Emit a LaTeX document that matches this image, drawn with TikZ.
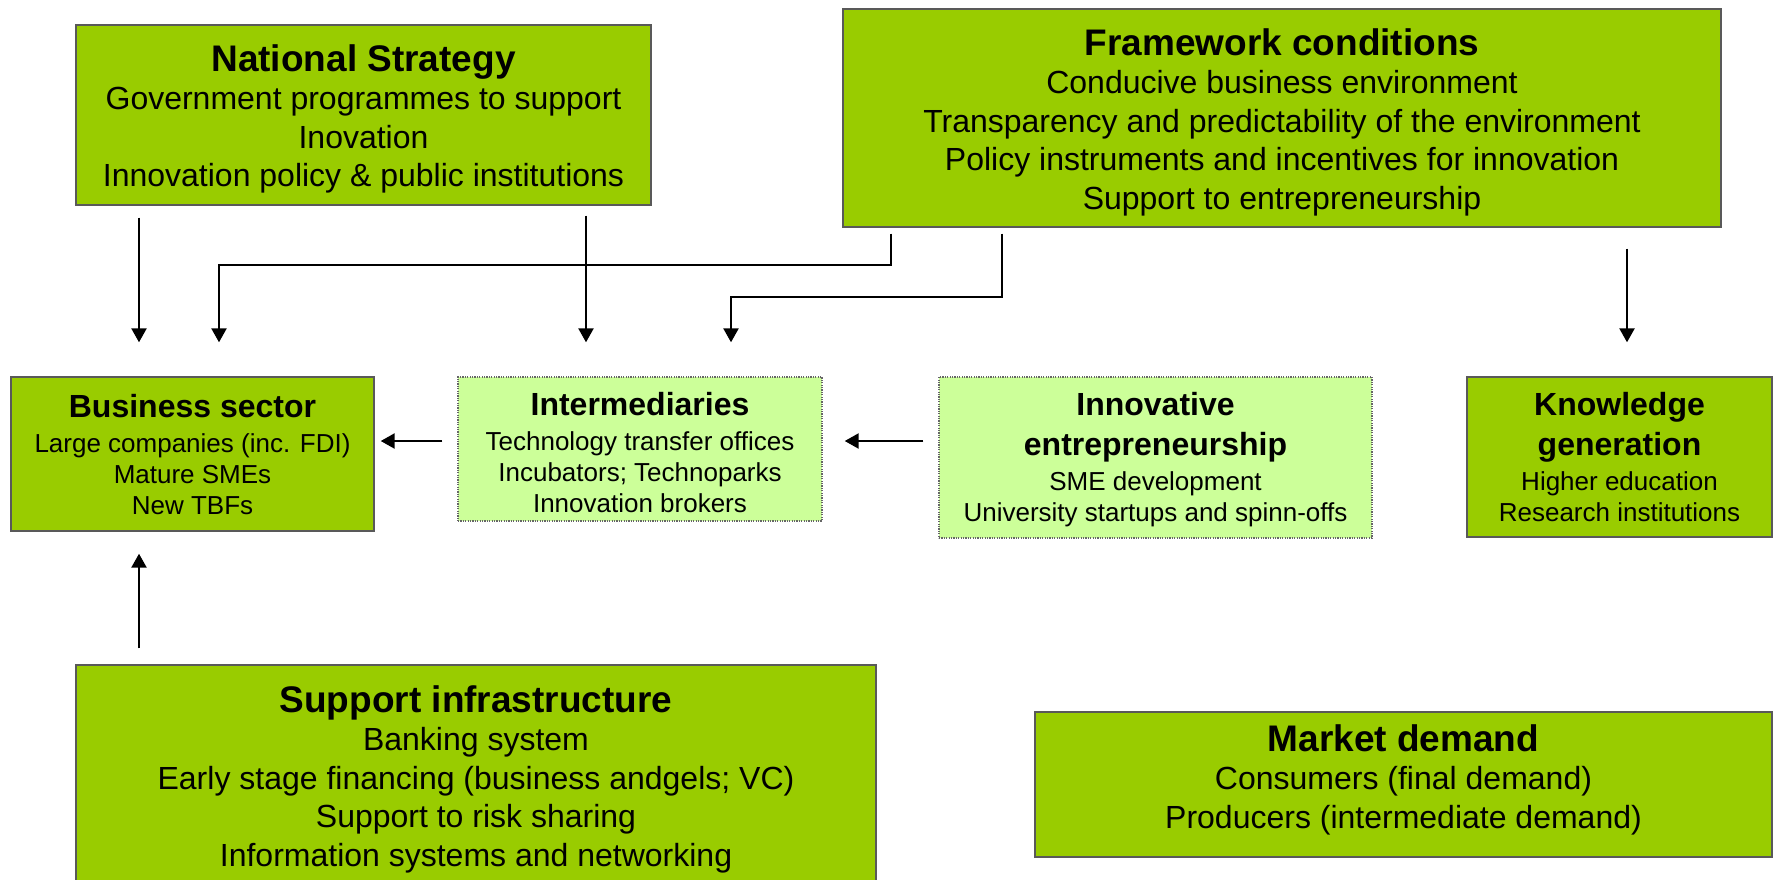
\documentclass[tikz,border=0pt]{standalone}
\usepackage{fontspec}
\setmainfont{Liberation Sans}
\usepackage{tikz}
\usetikzlibrary{arrows.meta,positioning,calc}
\definecolor{leaf}{HTML}{99CC00}
\definecolor{lightleaf}{HTML}{CCFF99}
\tikzstyle{greenbox}=[draw=black!65,fill=leaf,line width=0.7pt,rectangle,inner sep=0pt]
\tikzstyle{softbox}=[greenbox,fill=lightleaf,draw=black!60,dash pattern=on 0.6pt off 0.6pt]
\tikzstyle{bigtext}=[align=center,inner sep=0pt,font=\fontsize{16}{19.25}\selectfont]
\tikzstyle{smalltext}=[align=center,inner sep=0pt,font=\fontsize{13}{15.5}\selectfont]
\tikzstyle{arr}=[-{Triangle[length=7pt,width=7.5pt]},line width=1.2pt]
\newcommand{\bigtitle}[1]{{\fontsize{18.5}{19.25}\selectfont\bfseries #1}}
\newcommand{\smalltitle}[1]{{\fontsize{16}{20}\selectfont\bfseries #1}}

\begin{document}
\begin{tikzpicture}[x=0.5pt,y=-0.5pt]
\useasboundingbox (0,0) rectangle (1776,879);

% top row
\node [greenbox,minimum width=287.5pt,minimum height=90pt] (nat) at (363.5,115) {};
\node [bigtext] (nattxt) at ($(nat.center)+(0,4)$)
  {\bigtitle{National Strategy}\\ Government programmes to support\\ Inovation\\ Innovation policy \& public institutions};
\node [greenbox,minimum width=439pt,minimum height=109pt] (frame) at (1282,118) {};
\node [bigtext] (frametxt) at ($(frame.center)+(0,4)$)
  {\bigtitle{Framework conditions}\\ Conducive business environment\\ Transparency and predictability of the environment\\ Policy instruments and incentives for innovation\\ Support to entrepreneurship};

% middle row
\node [greenbox,minimum width=181.5pt,minimum height=77pt] (bus) at (192.5,454) {};
\node [smalltext] (bustxt) at ($(bus.center)+(0,1)$)
  {\smalltitle{Business sector}\\[2pt] Large companies (inc. FDI)\\ Mature SMEs\\ New TBFs};
\node [softbox,minimum width=182pt,minimum height=72pt] (inter) at (640,449) {};
\node [smalltext] (intertxt) at ($(inter.center)+(0,4)$)
  {\smalltitle{Intermediaries}\\[2pt] Technology transfer offices\\ Incubators; Technoparks\\ Innovation brokers};
\node [softbox,minimum width=216.5pt,minimum height=80.5pt] (innov) at (1155.5,457.5) {};
\node [smalltext] (innovtxt) at ($(innov.center)+(0,2)$)
  {\smalltitle{Innovative}\\[4.5pt] \smalltitle{entrepreneurship}\\[2pt] SME development\\ University startups and spinn-offs};
\node [greenbox,minimum width=152.5pt,minimum height=80pt] (know) at (1619.5,457) {};
\node [smalltext] (knowtxt) at (know.center)
  {\smalltitle{Knowledge}\\[4.5pt] \smalltitle{generation}\\[2pt] Higher education\\ Research institutions};

% bottom row
\node [greenbox,minimum width=400pt,minimum height=114pt] (supp) at (476,779) {};
\node [bigtext] (supptxt) at (supp.center)
  {\bigtitle{Support infrastructure}\\ Banking system\\ Early stage financing (business andgels; VC)\\ Support to risk sharing\\ Information systems and networking};
\node [greenbox,minimum width=368.5pt,minimum height=72.5pt] (market) at (1403.5,784.5) {};
\node [bigtext] (markettxt) at ($(market.center)+(0,-5)$)
  {\bigtitle{Market demand}\\ Consumers (final demand)\\ Producers (intermediate demand)};

% arrow columns and bends
\coordinate (c1) at (139,0);
\coordinate (c2) at (219,265);
\coordinate (c3) at (586,0);
\coordinate (c4) at (731,297);
\coordinate (e2) at (891,0);
\coordinate (e4) at (1002,0);
\coordinate (c5) at (1627,0);
\coordinate (r1) at (0,441);

\draw [arr,shorten <=6pt,shorten >=17pt] (nat.south -| c1) -- (bus.north -| c1);
\draw [arr,shorten <=3pt,shorten >=17pt] (frame.south -| e2) |- (c2) -- (bus.north -| c2);
\draw [arr,shorten <=5pt,shorten >=17pt] (nat.south -| c3) -- (inter.north -| c3);
\draw [arr,shorten <=3pt,shorten >=17pt] (frame.south -| e4) |- (c4) -- (inter.north -| c4);
\draw [arr,shorten <=10.5pt,shorten >=17pt] (frame.south -| c5) -- (know.north -| c5);
\draw [arr,shorten <=7.5pt,shorten >=3pt] (inter.west |- r1) -- (bus.east |- r1);
\draw [arr,shorten <=7.5pt,shorten >=11pt] (innov.west |- r1) -- (inter.east |- r1);
\draw [arr,shorten <=8pt,shorten >=11pt] (supp.north -| c1) -- (bus.south -| c1);
\end{tikzpicture}
\end{document}
